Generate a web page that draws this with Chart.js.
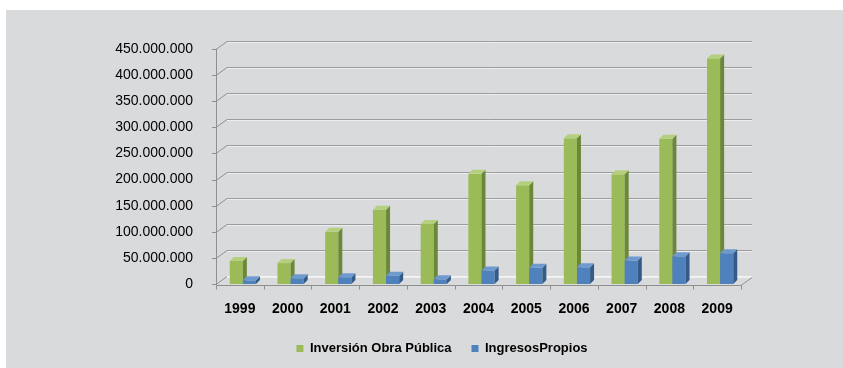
<!DOCTYPE html>
<html>
<head>
<meta charset="utf-8">
<script src="https://cdn.jsdelivr.net/npm/chart.js@4"></script>
<style>
body { margin: 0; background: #fff; }
#panel { position: absolute; left: 6px; top: 10px; width: 837px; height: 358px; background: #d9dadc; }
</style>
</head>
<body>
<div id="panel"><canvas id="myChart" width="837" height="358"></canvas></div>
<script>
var years = ['1999', '2000', '2001', '2002', '2003', '2004', '2005', '2006', '2007', '2008', '2009'];
var obraPublica = [44000000, 40000000, 100000000, 142000000, 115000000, 211000000, 189000000, 279000000, 210000000, 278000000, 432000000];
var ingresosPropios = [7000000, 11000000, 13000000, 16000000, 9000000, 26000000, 31000000, 32000000, 45000000, 53000000, 59000000];
var seriesNames = ['Inversión Obra Pública', 'IngresosPropios'];
var yMax = 450000000;
var yStep = 50000000;

// front, side, top colours for the fake 3d look
var faces = [
    ['#9bbb59', '#6b8838', '#b4cf7e'],
    ['#4f81bd', '#345a88', '#6f9ad0']
];
var DX = 11, DY = 8;   // depth of the walls
var BD = 4;            // depth of the bars
var SHIFT = 3;
var LEGEND_CENTER = 436;

function dots(v) {
    return v.toString().replace(/\B(?=(\d{3})+(?!\d))/g, '.');
}

const fake3d = {
    id: 'fake3d',
    afterLayout(chart) {
        // legend is centred under the plot, not under the whole canvas
        const lg = chart.legend;
        const off = LEGEND_CENTER - (lg.left + lg.right) / 2;
        lg.left += off;
        lg.right += off;
    },
    beforeDatasetsDraw(chart) {
        const ctx = chart.ctx;
        const a = chart.chartArea;
        const ys = chart.scales.y;
        const xs = chart.scales.x;
        ctx.save();
        ctx.lineWidth = 1;
        // back wall grid lines
        ys.ticks.forEach(t => {
            const py = Math.round(ys.getPixelForValue(t.value)) + 0.5;
            ctx.strokeStyle = '#8f8f8f';
            ctx.beginPath();
            ctx.moveTo(a.left - 4, py);
            ctx.lineTo(a.left, py);
            ctx.lineTo(a.left + DX, py - DY);
            ctx.stroke();
            ctx.strokeStyle = t.value === 0 ? '#f4f4f4' : '#9c9c9c';
            ctx.beginPath();
            ctx.moveTo(a.left + DX, py - DY);
            ctx.lineTo(a.right + DX, py - DY);
            ctx.stroke();
            ctx.strokeStyle = '#eeeeee';
            ctx.beginPath();
            ctx.moveTo(a.left + DX, py - DY + 1);
            ctx.lineTo(a.right + DX, py - DY + 1);
            ctx.stroke();
        });
        // front axis and floor edge
        const bottom = Math.round(ys.getPixelForValue(0)) + 1.5;
        const left = Math.round(a.left) + 0.5;
        ctx.strokeStyle = '#8f8f8f';
        ctx.beginPath();
        ctx.moveTo(left, Math.round(ys.getPixelForValue(yMax)));
        ctx.lineTo(left, bottom);
        ctx.lineTo(a.right, bottom);
        ctx.lineTo(a.right + DX, bottom - DY);
        ctx.stroke();
        for (let i = 0; i <= years.length; i++) {
            const px = Math.round(xs.left + i * (xs.width / years.length)) + 0.5;
            ctx.beginPath();
            ctx.moveTo(px, bottom);
            ctx.lineTo(px, bottom + 4);
            ctx.stroke();
        }
        // bars, per category so the blue one sits over the green side
        const metas = chart.getSortedVisibleDatasetMetas();
        for (let i = 0; i < years.length; i++) {
            metas.forEach((meta, d) => {
                const p = meta.data[i].getProps(['x', 'y', 'base', 'width'], true);
                const l = p.x - p.width / 2 + SHIFT;
                const r = l + p.width;
                const top = p.y;
                const bot = p.base;
                const c = faces[d];
                ctx.fillStyle = c[0];
                ctx.fillRect(l, top, r - l, bot - top);
                ctx.fillStyle = c[1];
                ctx.beginPath();
                ctx.moveTo(r, top);
                ctx.lineTo(r + BD, top - BD);
                ctx.lineTo(r + BD, bot - BD);
                ctx.lineTo(r, bot);
                ctx.closePath();
                ctx.fill();
                ctx.fillStyle = c[2];
                ctx.beginPath();
                ctx.moveTo(l, top);
                ctx.lineTo(l + BD, top - BD);
                ctx.lineTo(r + BD, top - BD);
                ctx.lineTo(r, top);
                ctx.closePath();
                ctx.fill();
            });
        }
        ctx.restore();
        return false;
    }
};

const ctx = document.getElementById('myChart').getContext('2d');
var myChart = new Chart(ctx, {
    type: 'bar',
    data: {
        labels: years,
        datasets: [
            { label: seriesNames[0], data: obraPublica, backgroundColor: faces[0][0], borderWidth: 0 },
            { label: seriesNames[1], data: ingresosPropios, backgroundColor: faces[1][0], borderWidth: 0 }
        ]
    },
    options: {
        responsive: false,
        animation: false,
        layout: { padding: { left: 0, right: 102, top: 39, bottom: 3 } },
        datasets: { bar: { barPercentage: 1, categoryPercentage: 0.55 } },
        plugins: {
            tooltip: { enabled: false },
            legend: {
                position: 'bottom',
                labels: {
                    boxWidth: 7,
                    boxHeight: 7,
                    padding: 20,
                    color: '#000',
                    font: { family: 'Liberation Sans', size: 13, weight: 'bold' }
                }
            }
        },
        scales: {
            x: {
                grid: { display: false },
                border: { display: false },
                ticks: { color: '#000', padding: 9, font: { family: 'Liberation Sans', size: 14, weight: 'bold' } },
                afterFit: function(scale) { scale.height = 38; }
            },
            y: {
                min: 0,
                max: yMax,
                grid: { display: false },
                border: { display: false },
                ticks: {
                    stepSize: yStep,
                    color: '#000',
                    padding: 15,
                    font: { family: 'Liberation Sans', size: 14 },
                    callback: function(v) { return dots(v); }
                },
                afterFit: function(scale) { scale.width = 210; }
            }
        }
    },
    plugins: [fake3d]
});
</script>
</body>
</html>
